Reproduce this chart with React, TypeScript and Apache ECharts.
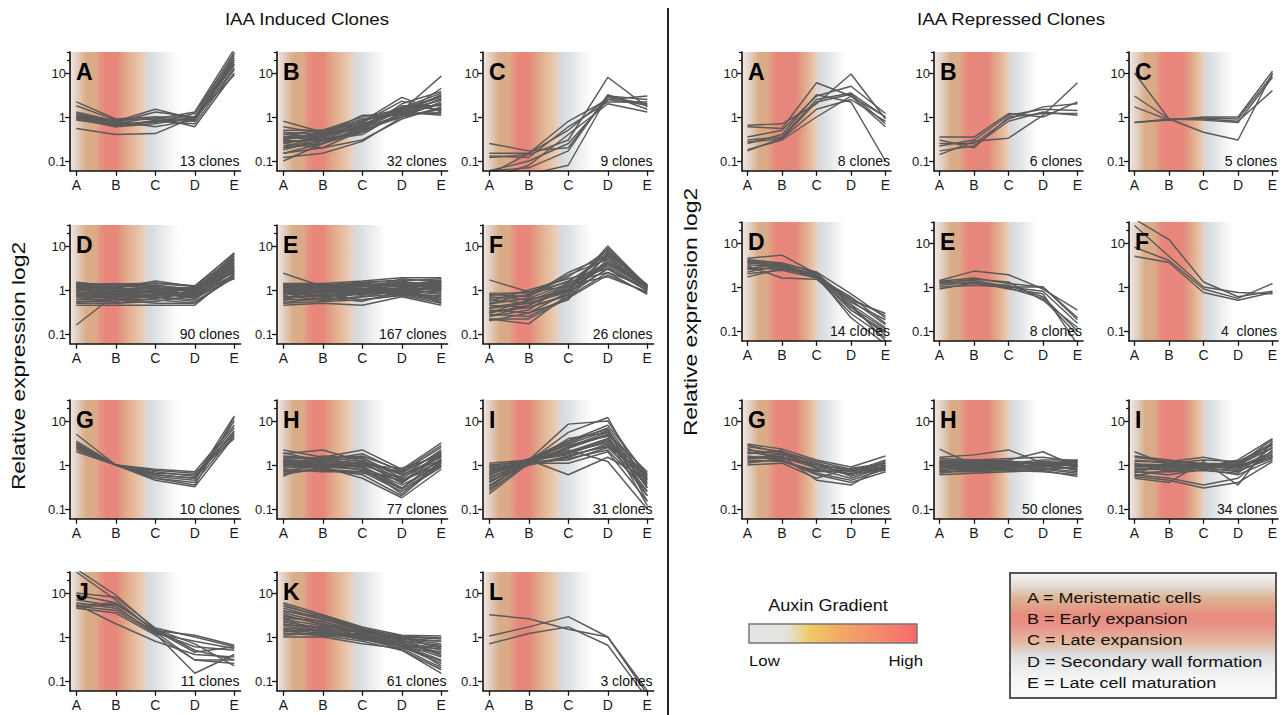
import React, { useEffect, useRef } from 'react';
import * as echarts from 'echarts';

// ---------- data ----------
const stages = ['A', 'B', 'C', 'D', 'E'];
const yTickValues = [0.1, 1, 10];
const yTickLabels = ['0.1', '1', '10'];
const minorTickValues = [20, 30];
const yRange = [0.06, 30];

const inducedLetters = ['A', 'B', 'C', 'D', 'E', 'F', 'G', 'H', 'I', 'J', 'K', 'L'];
const inducedCounts = ['13 clones', '32 clones', '9 clones', '90 clones', '167 clones', '26 clones', '10 clones', '77 clones', '31 clones', '11 clones', '61 clones', '3 clones'];
const repressedLetters = ['A', 'B', 'C', 'D', 'E', 'F', 'G', 'H', 'I'];
const repressedCounts = ['8 clones', '6 clones', '5 clones', '14 clones', '8 clones', '4  clones', '15 clones', '50 clones', '34 clones'];

const indA = [
  [2.2, 0.9, 1.0, 1.0, 30], [1.8, 0.85, 0.9, 0.9, 25], [1.3, 0.8, 1.5, 0.9, 20], [1.2, 0.75, 1.3, 1.0, 15],
  [1.1, 0.7, 1.0, 0.6, 10], [1.0, 0.65, 0.8, 0.7, 12], [1.0, 0.6, 0.85, 0.8, 18], [0.95, 0.7, 0.75, 1.2, 28],
  [0.9, 0.6, 0.7, 1.0, 9], [0.85, 0.65, 0.8, 0.9, 22], [0.55, 0.4, 0.42, 1.0, 16], [1.1, 0.85, 0.9, 1.3, 35],
  [1.0, 0.8, 0.6, 0.85, 13],
];
const indB = [
  [0.8, 0.45, 0.9, 1.2, 2.0], [0.5, 0.5, 1.0, 1.5, 3.0], [0.45, 0.4, 0.7, 1.3, 2.5], [0.4, 0.35, 0.6, 1.0, 1.5],
  [0.35, 0.3, 0.5, 1.1, 4.5], [0.3, 0.45, 0.8, 2.8, 1.3], [0.3, 0.25, 0.55, 1.4, 8.5], [0.28, 0.3, 0.45, 1.2, 1.2],
  [0.25, 0.35, 0.65, 1.6, 3.5], [0.22, 0.28, 0.5, 1.0, 2.2], [0.2, 0.25, 0.6, 1.8, 1.8], [0.18, 0.3, 0.4, 1.3, 1.1],
  [0.15, 0.2, 0.5, 2.0, 3.8], [0.12, 0.15, 0.28, 1.0, 1.6], [0.1, 0.25, 0.6, 1.5, 2.8], [0.4, 0.5, 0.75, 2.3, 1.4],
  [0.35, 0.4, 1.1, 1.1, 2.0], [0.25, 0.2, 0.3, 0.9, 1.7], [0.6, 0.42, 0.8, 1.4, 2.4], [0.32, 0.38, 0.7, 1.25, 3.2],
  [0.27, 0.32, 0.85, 1.5, 1.9], [0.2, 0.4, 0.55, 1.15, 2.6], [0.45, 0.3, 0.65, 1.7, 1.5], [0.15, 0.25, 0.45, 1.2, 1.25],
];
const indC = [
  [0.25, 0.17, 0.2, 3.0, 1.8], [0.15, 0.15, 0.8, 2.5, 3.0], [0.13, 0.12, 0.6, 2.2, 2.2], [0.12, 0.14, 0.3, 8.0, 1.7],
  [0.06, 0.07, 0.17, 3.2, 1.5], [0.05, 0.15, 0.5, 2.8, 2.0], [0.04, 0.08, 0.4, 2.0, 1.3], [0.03, 0.05, 0.08, 3.0, 2.5],
  [0.06, 0.1, 0.25, 2.5, 1.9],
];
const indD = [
  [1.5, 1.2, 1.3, 1.0, 3.0], [1.4, 1.1, 1.6, 1.2, 7.0], [1.3, 1.4, 1.2, 1.1, 5.0], [1.2, 1.0, 1.1, 0.9, 4.0],
  [1.1, 0.9, 1.0, 1.0, 2.5], [1.0, 0.85, 0.95, 0.8, 6.0], [0.9, 0.8, 0.9, 0.85, 3.5], [0.8, 0.75, 0.8, 0.7, 2.2],
  [0.75, 0.7, 0.75, 0.9, 1.8], [0.7, 0.65, 0.7, 0.6, 2.8], [0.6, 0.6, 0.6, 0.5, 2.0], [0.5, 0.5, 0.55, 0.75, 3.2],
  [0.45, 0.45, 0.45, 0.45, 2.4], [0.16, 0.8, 0.8, 0.8, 4.5], [1.0, 1.2, 1.4, 1.2, 5.5], [0.55, 0.55, 0.85, 0.65, 1.9],
  [1.45, 1.3, 1.1, 1.1, 4.2], [1.35, 0.95, 1.25, 0.95, 6.5], [1.25, 1.15, 0.9, 1.05, 3.8], [1.15, 1.05, 1.15, 0.75, 2.6],
  [1.05, 0.75, 1.05, 0.95, 5.2], [0.95, 1.1, 0.85, 1.15, 3.3], [0.85, 0.95, 1.0, 0.7, 2.9], [0.78, 0.85, 0.65, 0.85, 4.8],
  [0.68, 0.78, 0.9, 0.65, 2.3], [0.62, 0.7, 0.72, 0.95, 3.6], [0.52, 0.62, 0.68, 0.55, 1.9], [1.2, 1.35, 1.45, 1.25, 6.8],
  [0.9, 0.6, 0.5, 0.5, 2.1], [1.3, 0.5, 0.65, 0.9, 2.7],
];
const indE = [
  [2.4, 1.2, 1.3, 1.4, 1.5], [1.4, 1.4, 1.6, 1.9, 1.9], [1.3, 1.3, 1.5, 1.7, 1.6], [1.2, 1.2, 1.3, 1.5, 1.4],
  [1.1, 1.1, 1.2, 1.3, 1.3], [1.0, 1.0, 1.1, 1.2, 1.2], [0.95, 0.95, 1.0, 1.1, 1.0], [0.9, 0.9, 0.95, 1.0, 0.9],
  [0.85, 0.8, 0.9, 0.95, 0.8], [0.8, 0.75, 0.85, 0.9, 0.7], [0.7, 0.7, 0.8, 0.85, 0.6], [0.6, 0.6, 0.7, 0.8, 0.55],
  [0.5, 0.55, 0.6, 0.75, 0.5], [0.45, 0.5, 0.45, 0.7, 0.45], [1.3, 0.55, 0.9, 1.0, 1.1], [0.55, 1.3, 1.0, 1.1, 1.7],
  [1.2, 0.9, 1.5, 0.9, 0.65], [0.65, 1.0, 0.75, 1.6, 1.0], [1.35, 1.25, 1.45, 1.6, 1.8], [1.25, 1.35, 1.2, 1.45, 1.25],
  [1.15, 1.05, 1.35, 1.25, 1.45], [1.05, 1.15, 0.95, 1.35, 1.05], [0.98, 0.85, 1.05, 1.05, 1.35], [0.88, 1.0, 0.8, 1.15, 0.95],
  [0.78, 0.9, 1.0, 0.9, 1.15], [0.72, 0.6, 0.7, 1.0, 0.85], [0.62, 0.8, 0.6, 0.78, 0.75], [0.52, 0.65, 0.85, 0.85, 0.6],
  [1.4, 1.1, 1.0, 1.8, 1.5], [0.75, 1.2, 1.4, 1.2, 0.5], [1.1, 0.68, 0.55, 0.95, 1.25], [0.9, 1.25, 1.1, 0.72, 1.6],
];
const indF = [
  [1.7, 0.9, 1.5, 2.5, 1.2], [0.8, 0.7, 2.5, 6.0, 1.1], [0.75, 0.9, 1.2, 4.0, 1.3], [0.7, 0.6, 1.0, 10.0, 1.2],
  [0.6, 0.5, 0.9, 3.0, 1.0], [0.5, 0.8, 2.0, 8.0, 1.3], [0.45, 0.4, 0.8, 5.0, 1.1], [0.4, 0.55, 1.3, 2.0, 0.9],
  [0.35, 0.3, 0.6, 7.0, 1.2], [0.3, 0.45, 1.1, 3.5, 1.0], [0.28, 0.25, 0.7, 2.5, 0.8], [0.25, 0.35, 1.5, 6.5, 1.3],
  [0.22, 0.17, 0.8, 4.5, 1.2], [0.2, 0.3, 0.9, 9.0, 1.1], [0.55, 1.0, 1.8, 3.0, 1.0], [0.65, 0.75, 1.6, 5.5, 1.25],
  [0.48, 0.65, 1.4, 4.2, 1.15], [0.38, 0.5, 1.0, 6.0, 1.05], [0.32, 0.4, 0.75, 3.2, 0.95], [0.25, 0.45, 1.2, 7.5, 1.3],
  [0.22, 0.22, 0.65, 2.2, 0.85], [0.85, 0.85, 2.2, 5.0, 1.2], [0.3, 0.6, 0.95, 3.8, 1.1],
];
const indG = [
  [5.0, 1.0, 0.6, 0.5, 13], [3.2, 1.0, 0.8, 0.7, 8], [3.0, 1.0, 0.55, 0.45, 10], [2.8, 1.0, 0.7, 0.55, 6],
  [2.6, 1.0, 0.5, 0.4, 5], [2.4, 1.0, 0.65, 0.6, 7], [2.2, 1.0, 0.45, 0.32, 4.5], [2.0, 1.0, 0.6, 0.5, 5.5],
  [2.5, 1.0, 0.75, 0.65, 4], [3.5, 1.0, 0.5, 0.35, 12],
];
const indH = [
  [2.2, 1.5, 2.2, 0.8, 3.2], [1.8, 2.2, 1.2, 0.6, 1.5], [1.5, 1.3, 1.8, 0.7, 2.5], [1.3, 1.2, 1.5, 0.5, 1.8],
  [1.2, 1.1, 1.3, 0.45, 1.2], [1.1, 1.0, 1.1, 0.4, 2.0], [1.0, 1.0, 0.9, 0.35, 1.0], [0.9, 0.9, 0.8, 0.3, 1.4],
  [0.8, 0.7, 0.7, 0.25, 0.9], [0.7, 0.8, 0.6, 0.2, 1.1], [0.6, 0.9, 0.5, 0.18, 0.8], [0.55, 1.4, 1.0, 0.85, 1.6],
  [1.4, 0.75, 0.65, 0.55, 2.2], [1.0, 1.6, 1.4, 0.6, 1.3], [1.6, 1.4, 1.6, 0.75, 2.8], [1.35, 1.5, 1.2, 0.65, 2.0],
  [1.25, 0.95, 1.0, 0.5, 1.6], [1.15, 1.25, 0.85, 0.42, 1.3], [1.05, 0.85, 1.2, 0.38, 1.7], [0.95, 1.15, 0.95, 0.3, 1.15],
  [0.85, 1.05, 0.75, 0.28, 0.95], [0.75, 0.95, 0.9, 0.22, 1.25], [0.65, 0.8, 0.7, 0.45, 1.0], [1.9, 1.2, 1.1, 0.7, 1.9],
];
const indI = [
  [1.1, 1.3, 8.5, 10, 0.5], [1.0, 1.2, 5.5, 12, 0.3], [0.9, 1.3, 3.5, 8, 0.6], [0.8, 1.2, 3.0, 6, 0.4],
  [0.7, 1.1, 2.5, 5, 0.7], [0.6, 1.2, 2.0, 4, 0.25], [0.5, 1.3, 1.8, 3.5, 0.45], [0.45, 1.0, 1.5, 3, 0.2],
  [0.4, 1.2, 1.3, 2.5, 0.35], [0.35, 1.1, 1.1, 2, 0.15], [0.3, 1.3, 0.6, 1.5, 0.5], [0.25, 1.2, 2.2, 1.2, 0.1],
  [0.22, 1.1, 4.0, 5.5, 0.3], [0.55, 1.0, 1.6, 2.8, 0.55], [0.65, 1.4, 2.8, 4.5, 0.12], [0.95, 1.25, 3.2, 7, 0.45],
  [0.75, 1.15, 2.6, 5.5, 0.3], [0.5, 1.2, 2.4, 4.8, 0.2], [0.42, 1.3, 1.9, 3.8, 0.6], [0.28, 1.05, 1.4, 2.2, 0.25],
  [0.6, 1.35, 3.6, 6.5, 0.15], [0.85, 1.15, 2.0, 3.2, 0.38], [0.33, 1.25, 1.7, 2.6, 0.65],
];
const indJ = [
  [35, 9, 1.5, 0.5, 0.3], [30, 7, 1.3, 0.3, 0.25], [10, 8, 1.6, 1.0, 0.6], [9, 6, 1.4, 1.1, 0.65],
  [7, 5, 1.2, 0.8, 0.55], [6, 4.5, 1.3, 0.6, 0.5], [5.5, 2, 0.8, 0.4, 0.35], [5, 4, 1.2, 0.15, 0.4],
  [4.8, 5.5, 1.5, 0.7, 0.22], [4.5, 3.5, 1.1, 0.3, 0.3], [5.2, 6, 1.4, 0.45, 0.6],
];
const indK = [
  [6.0, 3.2, 1.7, 1.1, 1.05], [5.0, 3.0, 1.6, 1.0, 0.9], [4.0, 2.5, 1.5, 0.9, 0.7], [3.5, 2.2, 1.4, 0.85, 0.6],
  [3.0, 2.0, 1.3, 0.8, 0.5], [2.5, 1.8, 1.2, 0.75, 0.4], [2.2, 1.6, 1.1, 0.7, 0.35], [2.0, 1.4, 1.0, 0.65, 0.3],
  [1.8, 1.3, 0.95, 0.6, 0.25], [1.5, 1.2, 0.9, 0.55, 0.2], [1.2, 1.1, 0.8, 0.5, 0.15], [1.0, 1.0, 0.7, 0.55, 0.45],
  [1.3, 1.5, 1.0, 0.9, 0.8], [2.8, 1.1, 1.2, 0.6, 0.55], [5.5, 2.8, 1.5, 1.05, 0.95], [4.5, 2.6, 1.35, 0.95, 0.8],
  [3.8, 2.9, 1.55, 0.8, 0.65], [3.2, 1.9, 1.25, 1.0, 0.55], [2.7, 2.3, 1.15, 0.7, 0.45], [2.3, 1.5, 1.3, 0.85, 0.38],
  [1.9, 1.7, 1.05, 0.6, 0.28], [1.6, 1.35, 0.85, 0.75, 0.22], [1.4, 1.05, 1.1, 0.5, 0.18], [1.1, 1.25, 0.9, 0.65, 0.6],
];
const indL = [
  [1.05, 1.7, 2.9, 1.0, 0.05], [0.7, 1.2, 1.7, 0.65, 0.04], [3.2, 2.6, 1.5, 1.0, 0.06],
];

const repA = [
  [0.65, 0.7, 2.0, 9.5, 0.9], [0.6, 0.55, 6.0, 3.0, 0.6], [0.35, 0.5, 3.0, 5.0, 1.2], [0.3, 0.35, 2.5, 3.5, 1.0],
  [0.27, 0.32, 1.5, 2.5, 0.8], [0.25, 0.4, 3.2, 2.2, 0.1], [0.18, 0.3, 1.0, 3.0, 1.0], [0.17, 0.33, 2.2, 3.3, 0.7],
];
const repB = [
  [0.35, 0.35, 1.2, 1.0, 2.2], [0.3, 0.2, 1.0, 1.2, 1.2], [0.25, 0.25, 0.9, 1.7, 2.0], [0.22, 0.3, 1.1, 1.5, 1.4],
  [0.17, 0.22, 0.8, 1.3, 1.1], [0.14, 0.28, 0.33, 1.1, 6.0],
];
const repC = [
  [10, 0.9, 0.45, 0.3, 10], [3.0, 0.9, 0.9, 0.8, 4], [1.7, 0.85, 1.0, 1.0, 11], [0.75, 0.85, 0.95, 0.9, 9],
  [0.75, 0.9, 0.85, 0.75, 8],
];
const repD = [
  [4.5, 5.3, 2.0, 0.5, 0.25], [4.2, 3.5, 2.2, 0.7, 0.2], [4.0, 3.2, 1.8, 0.4, 0.12], [3.8, 3.0, 1.9, 0.3, 0.1],
  [3.5, 3.3, 1.7, 0.6, 0.15], [3.2, 2.8, 1.6, 0.25, 0.07], [3.0, 1.6, 1.5, 0.35, 0.08], [2.8, 2.5, 2.0, 0.45, 0.18],
  [2.5, 2.7, 1.8, 0.2, 0.05], [2.2, 3.1, 1.7, 0.3, 0.09], [2.0, 2.4, 1.6, 0.55, 0.22], [1.7, 2.6, 2.1, 0.4, 0.06],
  [3.6, 2.9, 1.9, 0.5, 0.14], [2.6, 3.4, 2.1, 0.35, 0.11],
];
const repE = [
  [1.4, 2.3, 1.9, 0.9, 0.3], [1.35, 1.6, 1.2, 1.0, 0.2], [1.3, 1.4, 1.0, 0.8, 0.15], [1.25, 1.2, 1.1, 0.6, 0.1],
  [1.2, 1.5, 1.3, 0.5, 0.12], [1.1, 1.3, 0.9, 0.7, 0.05], [1.0, 1.1, 1.0, 1.0, 0.18], [0.9, 1.25, 0.95, 0.55, 0.08],
];
const repF = [
  [35, 12, 1.3, 0.6, 0.8], [25, 5, 1.0, 0.75, 0.7], [8, 4, 0.9, 0.55, 1.2], [5, 3.6, 0.75, 0.5, 0.75],
];
const repG = [
  [3.0, 2.3, 1.3, 0.9, 1.6], [2.6, 2.0, 1.2, 0.8, 1.0], [2.2, 1.8, 0.9, 0.7, 0.8], [2.0, 1.5, 1.0, 0.6, 1.2],
  [1.8, 2.1, 0.8, 0.5, 0.9], [1.6, 1.3, 0.6, 0.4, 0.7], [1.5, 1.6, 0.45, 0.35, 1.0], [1.3, 1.2, 0.7, 0.75, 0.85],
  [1.1, 1.4, 1.1, 0.55, 0.95], [1.0, 1.1, 0.5, 0.85, 1.1], [2.4, 1.2, 0.75, 0.65, 0.75], [2.8, 1.9, 1.1, 0.7, 1.3],
  [1.9, 1.7, 1.0, 0.8, 0.9], [1.4, 1.5, 0.85, 0.6, 1.1], [1.2, 1.3, 0.65, 0.45, 0.8],
];
const repH = [
  [2.3, 1.0, 1.2, 1.0, 1.0], [1.5, 1.7, 2.2, 1.1, 1.2], [1.3, 1.2, 1.3, 2.0, 0.9], [1.2, 1.1, 1.1, 1.3, 1.3],
  [1.1, 1.0, 1.0, 1.2, 1.1], [1.0, 0.9, 0.95, 1.0, 0.8], [0.95, 0.85, 0.9, 0.9, 1.0], [0.9, 0.8, 0.85, 0.85, 0.7],
  [0.8, 0.75, 0.8, 0.8, 0.9], [0.7, 0.7, 0.75, 0.7, 0.6], [0.6, 0.65, 0.7, 0.75, 0.55], [0.85, 1.3, 1.4, 1.5, 1.2],
  [1.4, 1.3, 1.2, 1.1, 1.25], [1.15, 1.2, 1.15, 1.05, 1.0], [1.05, 1.05, 1.25, 0.95, 1.15], [1.0, 0.95, 1.05, 1.15, 0.9],
  [0.9, 1.1, 0.9, 1.05, 0.75], [0.85, 0.9, 1.0, 0.9, 1.05], [0.75, 0.85, 0.85, 0.95, 0.8], [0.65, 0.8, 0.78, 0.8, 0.65],
  [1.25, 1.0, 1.1, 0.75, 1.3], [0.7, 1.15, 0.95, 1.2, 0.95],
];
const repI = [
  [2.0, 1.0, 0.9, 1.3, 4.0], [1.6, 1.3, 1.0, 1.0, 3.0], [1.2, 1.2, 1.5, 1.1, 2.5], [1.0, 0.9, 1.1, 0.9, 2.0],
  [0.9, 1.0, 0.95, 0.8, 1.8], [0.8, 0.8, 0.9, 1.0, 1.5], [0.7, 0.6, 0.8, 0.6, 1.3], [0.6, 0.5, 0.35, 0.5, 2.2],
  [0.55, 0.45, 0.3, 0.4, 1.2], [0.5, 0.4, 1.2, 0.35, 3.5], [1.1, 0.7, 0.85, 0.7, 1.6], [0.65, 1.1, 1.3, 1.2, 2.8],
  [1.3, 1.1, 1.0, 1.15, 3.2], [1.05, 1.0, 1.0, 1.0, 2.4], [0.95, 0.9, 0.95, 0.85, 2.0], [0.85, 0.85, 1.05, 0.95, 1.7],
  [0.75, 0.95, 0.85, 0.75, 1.4], [0.68, 0.7, 0.75, 0.65, 2.6], [0.58, 0.75, 0.9, 0.9, 1.5], [1.5, 1.2, 1.1, 1.05, 3.8],
];

const inducedData = [indA, indB, indC, indD, indE, indF, indG, indH, indI, indJ, indK, indL];
const repressedData = [repA, repB, repC, repD, repE, repF, repG, repH, repI];

const legendStages = [
  'A = Meristematic cells',
  'B = Early expansion',
  'C = Late expansion',
  'D = Secondary wall formation',
  'E = Late cell maturation',
];

// ---------- layout & style ----------
const FONT = '"Liberation Sans", Arial, Helvetica, sans-serif';
const LINE_COLOR = '#5a5a5a';
const DEC = 44; // px per decade
const X_MIN = -0.16;
const X_MAX = 4.16;
const L_X = [70, 277, 483];
const L_W = 170.6;
const L_Y10 = [73, 246, 421, 593];
const R_X = [742, 934, 1129];
const R_W = 149;
const R_Y10 = [73, 243, 421];

const lg = (v: number) => Math.log10(v);
const Y_MIN = lg(yRange[0]);
const Y_MAX = lg(yRange[1]);

const leftStops: [number, string][] = [
  [-0.16, '#f1e8e3'], [0.02, '#e2cfc3'], [0.25, '#d9ad88'], [0.5, '#dcaa86'], [0.64, '#e7907f'],
  [0.75, '#e8867c'], [1.02, '#e8877c'], [1.15, '#e49a82'], [1.3, '#e1ae8c'], [1.58, '#e8c3a8'],
  [1.74, '#e6d2c6'], [1.84, '#d6dadd'], [2.1, '#e3e6e8'], [2.6, '#ffffff'],
];
const rightStops: [number, string][] = [
  [-0.16, '#f1e8e3'], [0.08, '#e2cfc3'], [0.32, '#d9ad88'], [0.58, '#dcaa86'], [0.74, '#e7907f'],
  [0.87, '#e8867c'], [1.4, '#e8877c'], [1.55, '#e49a82'], [1.7, '#e1ae8c'], [1.9, '#e8c3a8'],
  [2.0, '#e6d2c6'], [2.08, '#d6dadd'], [2.35, '#e3e6e8'], [2.85, '#ffffff'],
];

function hGradient(stops: [number, string][]) {
  const start = stops[0][0];
  const end = stops[stops.length - 1][0];
  return {
    type: 'linear', x: 0, y: 0, x2: 1, y2: 0,
    colorStops: stops.map(([u, c]) => ({ offset: (u - start) / (end - start), color: c })),
  };
}

function txt(x: number, y: number, text: string, size: number, align: string, opts: any = {}) {
  return {
    type: 'text', x, y, z: 10, ...opts,
    style: { text, font: `${opts.weight || ''} ${size}px ${FONT}`.trim(), fill: opts.fill || '#111', align, verticalAlign: 'middle' },
  };
}

function buildOption() {
  const grid: any[] = [];
  const xAxis: any[] = [];
  const yAxis: any[] = [];
  const series: any[] = [];
  const graphic: any[] = [];

  const addPanel = (x0: number, y10: number, w: number, letter: string, count: string, lines: number[][], stops: [number, string][]) => {
    const g = grid.length;
    const top = y10 - (Y_MAX - 1) * DEC;
    const height = (Y_MAX - Y_MIN) * DEC;
    grid.push({ left: x0, top, width: w, height, outerBoundsMode: 'none', containLabel: false });
    xAxis.push({
      type: 'value', gridIndex: g, min: X_MIN, max: X_MAX, z: 5,
      axisLine: { show: true, onZero: false, lineStyle: { color: '#111', width: 1.6 } },
      axisTick: { show: true, length: 5, customValues: stages.map((_, i) => i), lineStyle: { color: '#111', width: 1.3 } },
      axisLabel: {
        show: true, customValues: stages.map((_, i) => i), margin: 7,
        formatter: (v: number) => stages[Math.round(v)] ?? '', color: '#1a1a1a', fontSize: 14, fontFamily: FONT,
      },
      splitLine: { show: false },
    });
    yAxis.push({
      type: 'value', gridIndex: g, min: Y_MIN, max: Y_MAX, position: 'left', z: 5,
      axisLine: { show: true, onZero: false, lineStyle: { color: '#111', width: 1.6 } },
      axisTick: { show: true, length: 5, customValues: yTickValues.map(lg), lineStyle: { color: '#111', width: 1.3 } },
      axisLabel: {
        show: true, customValues: yTickValues.map(lg), margin: 4,
        formatter: (v: number) => {
          const idx = yTickValues.findIndex((t) => Math.abs(lg(t) - v) < 1e-6);
          return idx >= 0 ? yTickLabels[idx] : '';
        },
        color: '#1a1a1a', fontSize: 13, fontFamily: FONT,
      },
      splitLine: { show: false },
    });
    yAxis.push({
      type: 'value', gridIndex: g, min: Y_MIN, max: Y_MAX, position: 'left', offset: 0, z: 5,
      axisLine: { show: false, onZero: false },
      axisTick: { show: true, length: 3, customValues: minorTickValues.map(lg), lineStyle: { color: '#111', width: 1.2 } },
      axisLabel: { show: false },
      splitLine: { show: false },
    });
    series.push({
      type: 'line', xAxisIndex: g, yAxisIndex: 2 * g, data: [], z: 1, silent: true,
      markArea: {
        silent: true,
        itemStyle: { color: hGradient(stops) },
        data: [[{ coord: [X_MIN, Y_MIN] }, { coord: [stops[stops.length - 1][0], Y_MAX] }]],
      },
    });
    lines.forEach((vals) => {
      series.push({
        type: 'line', xAxisIndex: g, yAxisIndex: 2 * g, z: 3, silent: true, clip: true,
        symbol: 'none', smooth: false,
        lineStyle: { color: LINE_COLOR, width: 1.45 },
        data: vals.map((v, i) => [i, lg(v)]),
      });
    });
    graphic.push(txt(x0 + 6, y10 - 1, letter, 23, 'left', { weight: 'bold', fill: '#000' }));
    graphic.push(txt(x0 + w - 1, y10 + 2 * DEC, count, 14, 'right'));
  };

  inducedData.forEach((lines, i) => {
    addPanel(L_X[i % 3], L_Y10[Math.floor(i / 3)], L_W, inducedLetters[i], inducedCounts[i], lines, leftStops);
  });
  repressedData.forEach((lines, i) => {
    addPanel(R_X[i % 3], R_Y10[Math.floor(i / 3)], R_W, repressedLetters[i], repressedCounts[i], lines, rightStops);
  });

  // titles
  graphic.push(txt(307, 19, 'IAA Induced Clones', 17, 'center', { scaleX: 1.1 }));
  graphic.push(txt(1011, 19, 'IAA Repressed Clones', 17, 'center', { scaleX: 1.1 }));
  graphic.push(txt(18, 366, 'Relative expression log2', 19, 'center', { rotation: Math.PI / 2, scaleX: 1.2 }));
  graphic.push(txt(690, 312, 'Relative expression log2', 19, 'center', { rotation: Math.PI / 2, scaleX: 1.2 }));
  // divider
  graphic.push({ type: 'line', shape: { x1: 668, y1: 8, x2: 668, y2: 715 }, style: { stroke: '#222', lineWidth: 2 } });

  // auxin gradient legend
  graphic.push(txt(828, 606, 'Auxin Gradient', 16, 'center', { scaleX: 1.13 }));
  graphic.push({
    type: 'rect', shape: { x: 749, y: 624, width: 168, height: 19 },
    style: {
      stroke: '#777', lineWidth: 1.5,
      fill: {
        type: 'linear', x: 0, y: 0, x2: 1, y2: 0,
        colorStops: [
          { offset: 0, color: '#e4e4e4' }, { offset: 0.22, color: '#e5e3df' }, { offset: 0.37, color: '#f0c962' },
          { offset: 0.55, color: '#f3a866' }, { offset: 0.8, color: '#f5866e' }, { offset: 1, color: '#f76a6a' },
        ],
      },
    },
  });
  graphic.push(txt(749, 661, 'Low', 15, 'left', { scaleX: 1.12 }));
  graphic.push(txt(923, 661, 'High', 15, 'right', { scaleX: 1.12 }));

  // stage legend box
  graphic.push({
    type: 'rect', shape: { x: 1010, y: 573, width: 266, height: 125 },
    style: {
      stroke: '#555', lineWidth: 2,
      fill: {
        type: 'linear', x: 0, y: 0, x2: 0, y2: 1,
        colorStops: [
          { offset: 0, color: '#f6f6f6' }, { offset: 0.1, color: '#e4ddd8' }, { offset: 0.2, color: '#dcb593' },
          { offset: 0.34, color: '#e98c80' }, { offset: 0.43, color: '#e8948a' }, { offset: 0.55, color: '#e4b89c' },
          { offset: 0.66, color: '#dcdfe1' }, { offset: 0.84, color: '#f5f5f5' }, { offset: 1, color: '#fbfbfb' },
        ],
      },
    },
  });
  const legendY = [598, 619, 640, 662, 683];
  legendStages.forEach((t, i) => {
    graphic.push(txt(1027, legendY[i], t, 15, 'left', { scaleX: 1.2 }));
  });

  return { animation: false, backgroundColor: '#ffffff', grid, xAxis, yAxis, series, graphic };
}

export default function App() {
  const ref = useRef<HTMLDivElement>(null);
  useEffect(() => {
    document.body.style.margin = '0';
    if (!ref.current) return;
    const chart = echarts.init(ref.current, undefined, { renderer: 'svg' });
    chart.setOption(buildOption() as any);
    return () => chart.dispose();
  }, []);
  return <div ref={ref} style={{ width: 1288, height: 715 }} />;
}
